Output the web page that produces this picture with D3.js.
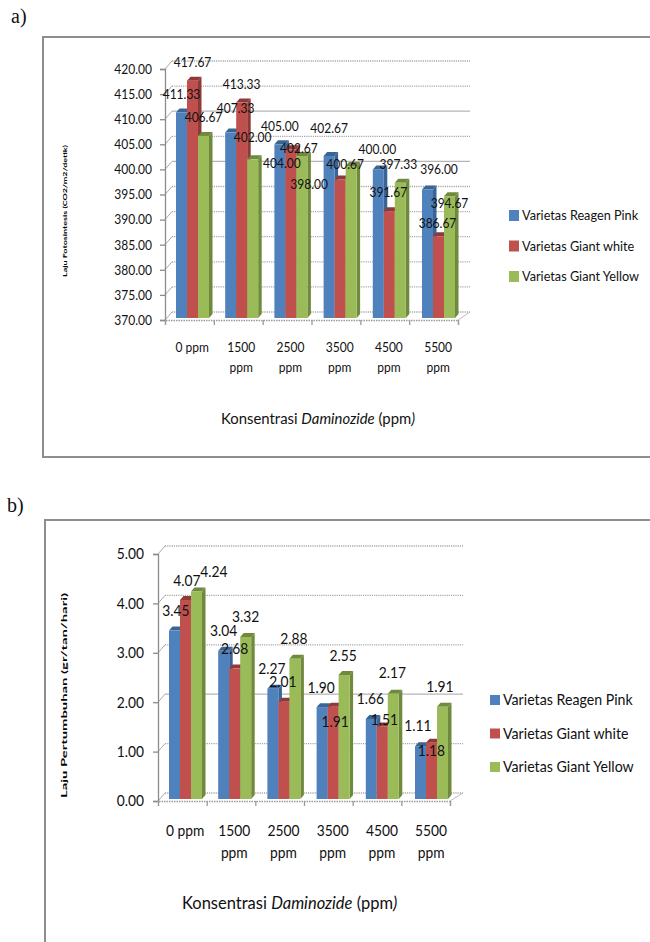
<!DOCTYPE html>
<html><head><meta charset="utf-8">
<script src="https://cdn.jsdelivr.net/npm/d3@7"></script>
<style>html,body{margin:0;padding:0;background:#fff}svg{display:block}text{font-family:Lato,"Open Sans",sans-serif;fill:#111}</style>
</head><body><div id="c"></div>
<script>
const categories = ["0 ppm","1500 ppm","2500 ppm","3500 ppm","4500 ppm","5500 ppm"];
const seriesNames = ["Varietas Reagen Pink","Varietas Giant white","Varietas Giant Yellow"];
const seriesColors = ["#4f81bd","#c0504d","#9bbb59"];
const seriesSides = ["#3a6496","#8f3a38","#6f8a3c"];
const pinkA = [411.33,407.33,405.00,402.67,400.00,396.00];
const whiteA = [417.67,413.33,404.00,398.00,391.67,386.67];
const yellowA = [406.67,402.00,402.67,400.67,397.33,394.67];
const pinkB = [3.45,3.04,2.27,1.90,1.66,1.11];
const whiteB = [4.07,2.68,2.01,1.91,1.51,1.18];
const yellowB = [4.24,3.32,2.88,2.55,2.17,1.91];
const ticksA = [370,375,380,385,390,395,400,405,410,415,420];
const ticksB = [0,1,2,3,4,5];

// label placement relative to each bar's top centre, per category then series
const nudgeA = [[[0,-14],[0,-14],[0,-15]],[[5,-20],[0,-14],[0,-18]],[[0,-14],[-9,18],[-3,-4]],
  [[0,-24],[-31,9],[-6,2]],[[-1,-16],[-1,-15],[-2,-15]],[[11.5,-16],[-1,-9],[0,11]]];
const nudgeB = [[[1.5,-16],[1.5,-15],[17.5,-16]],[[0,-16],[0,-16],[0,-16]],[[-1,-16],[-1,-16],[-1,-16]],
  [[-1,-15],[2,19],[-1,-15]],[[-1,-16],[2,-3],[-1,-17]],[[-2.5,-16],[0,12],[-2.5,-16]]];

const svg = d3.select("#c").append("svg").attr("width",650).attr("height",942);
const DEP = 3.5, CAP = 4;

// condense text horizontally, keeping its anchor
function squeeze(sel,f){
  sel.each(function(){
    this.setAttribute("textLength",this.getComputedTextLength()*f);
    this.setAttribute("lengthAdjust","spacingAndGlyphs");
  });
}

function chart(o){
  const g = svg.append("g");
  g.append("path").attr("d",o.frame).attr("fill","none").attr("stroke","#8e8e8e").attr("stroke-width",2);
  g.append("text").attr("x",o.tag[0]).attr("y",o.tag[1]).text(o.tagText)
    .style("font-family","'Liberation Serif',serif").style("font-size","20px");

  const y = d3.scaleLinear().domain(o.domain).range(o.yRange);
  const yBack = v => y(v) - o.depth[1];
  const gridR = o.gridRight;
  const xL = o.axisX;

  const grid = g.append("g");
  o.ticks.forEach(t=>{
    const solid = o.solid.includes(t);
    grid.append("line").attr("x1",xL+o.depth[0]).attr("x2",gridR).attr("y1",yBack(t)).attr("y2",yBack(t))
      .attr("stroke",solid?"#b5b5b5":"#a8a8a8").attr("stroke-width",1.3).attr("stroke-dasharray",solid?null:"1.2 1");
    grid.append("line").attr("x1",xL).attr("x2",xL+o.depth[0]).attr("y1",y(t)).attr("y2",yBack(t))
      .attr("stroke","#aaa").attr("stroke-width",1);
  });
  const x0 = y(o.domain[0]);
  grid.append("line").attr("x1",o.tickRight).attr("x2",gridR).attr("y1",x0).attr("y2",yBack(o.domain[0])).attr("stroke","#bbb");

  const ay = g.append("g").attr("transform",`translate(${xL},0)`)
    .call(d3.axisLeft(y).tickValues(o.ticks).tickFormat(d3.format(".2f")).tickSize(5).tickPadding(o.tickPad));
  ay.selectAll("path,line").attr("stroke","#8c8c8c").attr("stroke-width",1.3);
  ay.selectAll("text").style("font-size",o.font+"px").style("font-family","Lato").attr("fill","#111").call(squeeze,o.fontFit);

  const xEdge = d3.scalePoint().domain(d3.range(7)).range([xL,o.tickRight]);
  const ax = g.append("g").attr("transform",`translate(0,${x0})`)
    .call(d3.axisBottom(xEdge).tickFormat("").tickSize(5));
  ax.selectAll("path,line").attr("stroke","#9a9a9a").attr("stroke-width",1.3);
  ax.select("path").attr("stroke-dasharray","1.5 1");

  const xBand = d3.scaleBand().domain(categories).range([o.barStart-8,o.barStart-8+49.2*6]).paddingInner(0);
  const xSeries = d3.scaleBand().domain(seriesNames).range([8,41]);
  const base = y(o.domain[0]) - o.baseLift;
  const bars = g.append("g");
  const labels = [];
  categories.forEach((c,i)=>{
    seriesNames.forEach((s,k)=>{
      const v = o.values[k][i];
      const bx = xBand(c)+xSeries(s), w = xSeries.bandwidth(), t = y(v);
      const bar = bars.append("g");
      bar.append("path").attr("d",`M${bx+w},${t}L${bx+w+DEP},${t-CAP}L${bx+w+DEP},${base-CAP}L${bx+w},${base}Z`).attr("fill",seriesSides[k]);
      bar.append("path").attr("d",`M${bx},${t}L${bx+DEP},${t-CAP}L${bx+w+DEP},${t-CAP}L${bx+w},${t}Z`).attr("fill",seriesSides[k]);
      bar.append("rect").attr("x",bx).attr("y",t).attr("width",w).attr("height",base-t).attr("fill",seriesColors[k]);
      const n = o.nudge[i][k];
      labels.push({x:bx+w/2+n[0],y:t-CAP+n[1],t:d3.format(".2f")(v)});
    });
  });
  g.append("g").selectAll("text").data(labels).join("text")
    .attr("x",d=>d.x).attr("y",d=>d.y).attr("dy",".35em").attr("text-anchor","middle")
    .style("font-size",o.font+"px").text(d=>d.t).call(squeeze,o.fontFit);

  const catLines = categories.flatMap(c=>{
    const parts = c==="0 ppm" ? [c] : c.split(" ");
    return parts.map((p,j)=>({c,p,j}));
  });
  g.append("g").selectAll("text").data(catLines).join("text")
    .attr("text-anchor","middle").style("font-size",o.font+"px")
    .attr("x",d=>xBand(d.c)+xBand.bandwidth()/2-0.5).attr("y",d=>o.catY[d.j]).attr("dy",".35em")
    .text(d=>d.p).call(squeeze,o.fontFit);

  const tt = g.append("text").attr("transform",`translate(${o.xTitle[0]},${o.xTitle[1]}) scale(${o.titleFit},1)`)
    .attr("dy",".35em").style("font-size",o.titleFont+"px");
  tt.append("tspan").text("Konsentrasi ");
  tt.append("tspan").style("font-style","italic").text("Daminozide");
  tt.append("tspan").text(" (ppm");
  tt.append("tspan").style("font-style","italic").text(")");

  const [yx,yy0,yy1] = o.yTitle;
  g.append("text").attr("transform",`translate(${yx},${yy1}) rotate(-90)`)
    .attr("textLength",yy1-yy0).attr("lengthAdjust","spacingAndGlyphs")
    .style("font-size",o.yTitleFont+"px").style("font-weight","700").style("fill","#000").text(o.yTitleText);

  const sw = d3.scalePoint().domain(seriesNames).range(o.legendY);
  const leg = g.append("g").selectAll("g").data(seriesNames).join("g");
  leg.append("rect").attr("x",o.legendX).attr("y",d=>sw(d)-o.swatch[1]/2).attr("width",o.swatch[0]).attr("height",o.swatch[1])
    .attr("fill",(d,i)=>seriesColors[i]);
  leg.append("text").attr("x",o.legendX+o.swatch[0]+3).attr("y",d=>sw(d)).attr("dy",".35em")
    .style("font-size",o.legendFont+"px").text(d=>d).call(squeeze,o.legendFit);
}

chart({frame:"M651,37H43V457H651",tag:[11,23],tagText:"a)",domain:[370,420],ticks:ticksA,yRange:[320,69],depth:[7,8],
  axisX:165,gridRight:470,tickRight:458,solid:[400,410],tickPad:8,font:13.5,fontFit:.89,values:[pinkA,whiteA,yellowA],nudge:nudgeA,
  barStart:176,baseLift:2,catY:[347,367],xTitle:[221,419],titleFont:15.5,titleFit:.96,yTitle:[67,145,277],yTitleFont:6,
  yTitleText:"Laju Fotosintesis (CO2/m2/detik)",legendX:509,legendY:[215.5,276.5],swatch:[10,11],legendFont:13.5,legendFit:.94});

chart({frame:"M651,520H45V943",tag:[7,512],tagText:"b)",domain:[0,5],ticks:ticksB,yRange:[801,554],depth:[7,8],
  axisX:158,gridRight:463,tickRight:450,solid:[2],tickPad:9,font:15,fontFit:.92,values:[pinkB,whiteB,yellowB],nudge:nudgeB,
  barStart:169,baseLift:2,catY:[831,853],xTitle:[182,903],titleFont:16.5,titleFit:1,yTitle:[67,593,798],yTitleFont:8,
  yTitleText:"Laju Pertumbuhan    (gr/tan/hari)",legendX:490,legendY:[700,767],swatch:[10,10],legendFont:15,legendFit:.945});
</script></body></html>
